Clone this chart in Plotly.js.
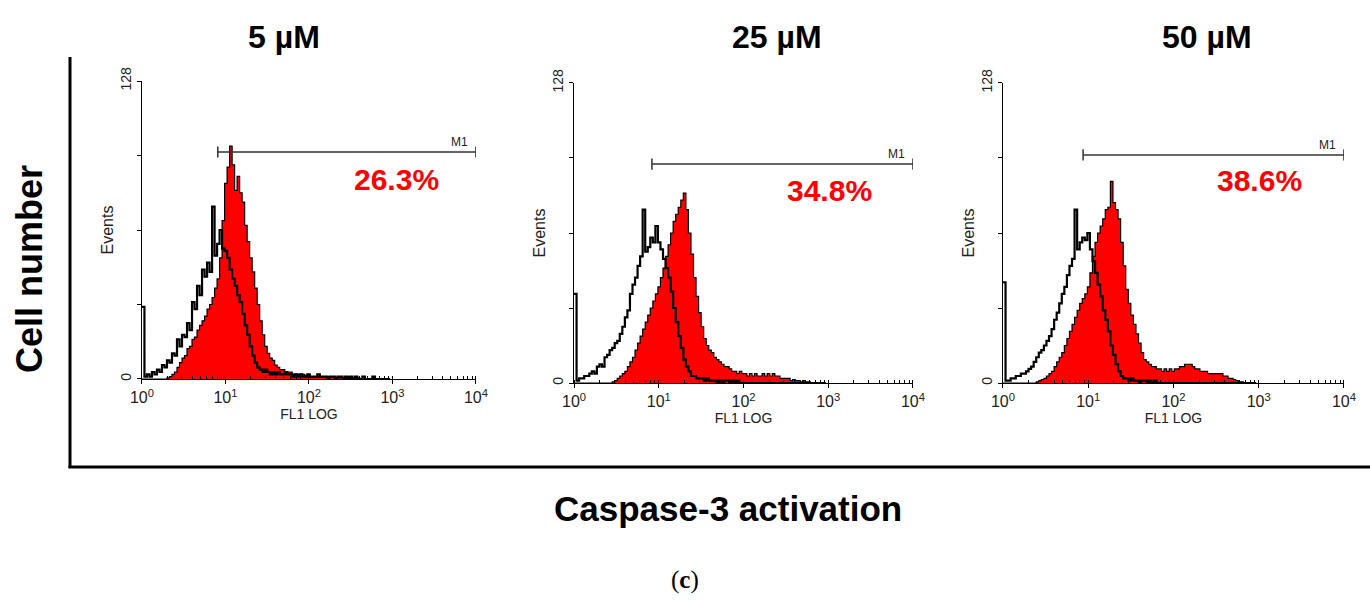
<!DOCTYPE html>
<html><head><meta charset="utf-8">
<script src="https://cdn.plot.ly/plotly-3.0.1.min.js"></script>
<style>html,body{margin:0;padding:0;background:#fff;} #chart{width:1370px;height:601px;}</style>
</head><body><div id="chart"></div>
<script>
// ---------- data ----------
const panelTitles = ['5 µM', '25 µM', '50 µM'];
const percentLabels = ['26.3%', '34.8%', '38.6%'];

// channel positions, in decades of FL1 (10^e)
const fl1Exp = [
  0.00,0.03,0.06,0.09,0.12,0.15,0.18,0.21,0.24,0.27,
  0.30,0.33,0.36,0.39,0.42,0.45,0.48,0.51,0.54,0.57,
  0.60,0.63,0.66,0.69,0.72,0.75,0.78,0.81,0.84,0.87,
  0.90,0.93,0.96,0.99,1.02,1.05,1.08,1.11,1.14,1.17,
  1.20,1.23,1.26,1.29,1.32,1.35,1.38,1.41,1.44,1.47,
  1.50,1.53,1.56,1.59,1.62,1.65,1.68,1.71,1.74,1.77,
  1.80,1.83,1.86,1.89,1.92,1.95,1.98,2.01,2.04,2.07,
  2.10,2.13,2.16,2.19,2.22,2.25,2.28,2.31,2.34,2.37,
  2.40,2.43,2.46,2.49,2.52,2.55,2.58,2.61,2.64,2.67,
  2.70,2.73,2.76,2.79,2.82,2.85,2.88,2.91,2.94,2.97
];

// 5 µM
const control5 = [
  31,1,2,1,3,2,4,3,6,5,
  8,7,11,10,17,14,19,18,24,21,
  33,30,40,36,47,44,50,46,74,53,
  58,64,56,55,52,47,43,40,36,33,
  28,23,19,14,10,7,5,4,3,4,
  3,2,3,2,3,2,2,3,2,2,
  1,2,1,2,1,1,2,1,1,1,
  2,1,1,1,0,1,1,0,1,1,
  0,1,0,1,0,1,0,0,1,0,
  0,0,1,0,0,0,0,0,0,0
];
const treated5 = [
  0,0,0,0,0,0,0,0,0,0,
  0.5,1,2,3,5,7,9,10,13,14,
  17,18,21,23,25,27,30,32,35,39,
  43,52,68,84,91,100,92,81,87,80,
  76,66,59,52,46,39,32,25,19,14,
  11,9,8,6,5,4,4,3,3,3,
  2,2,2,2,2,1.5,1.5,1,1,1,
  1,1,1,1,1,1,1,0.5,0.5,0.5,
  0.5,0.5,0.5,0.5,0.5,0.5,0.5,0,0,0,
  0,0,0,0,0,0,0,0,0,0
];
// 25 µM
const control25 = [
  38,1,2,2,3,3,4,5,4,7,
  8,7,11,12,14,15,17,18,21,24,
  28,31,38,42,45,50,54,74,56,58,
  62,60,67,60,57,53,49,45,39,32,
  26,20,15,10,7,5,3,3,2,2,
  2,1,2,1,1,1,0,1,0,1,
  1,0,1,0,1,0,0,0,0,0,
  0,0,0,0,0,0,0,0,0,0,
  0,0,0,0,0,0,0,0,0,0,
  0,0,0,0,0,0,0,0,0,0
];
const treated25 = [
  0,0,0,0,0,0,0,0,0,0,
  0,0,0,0,0,0.5,1,2,3,4,
  5,7,9,11,14,17,20,23,26,29,
  32,35,38,41,45,49,54,59,64,69,
  72,75,78,81,74,64,55,45,37,30,
  24,19,16,14,13,11,10,9,8,7,
  7,6,5,5,4,5,4,4,3,4,
  3,4,3,3,4,3,4,3,4,3,
  3,2,2,2,2,1,1.5,1,1,0.5,
  1,0.5,0.5,0,0,0,0,0,0,0
];
// 50 µM
const control50 = [
  43,1,1,2,2,3,3,4,4,5,
  6,7,9,11,13,14,16,18,20,23,
  27,30,34,38,41,46,50,53,74,57,
  60,62,61,64,57,52,47,42,37,31,
  27,22,16,12,8,5,3,2,2,1,
  2,1,1,0,1,1,0,1,0,1,
  0,0,0,0,0,0,0,0,0,0,
  0,0,0,0,0,0,0,0,0,0,
  0,0,0,0,0,0,0,0,0,0,
  0,0,0,0,0,0,0,0,0,0
];
const treated50 = [
  0,0,0,0,0,0,0,0,0,0,
  0,0,0,0.5,1,1.5,2,3,4,5,
  7,9,11,13,16,19,22,25,28,31,
  34,36,38,41,47,54,60,64,67,70,
  74,75,86,77,74,70,60,50,40,34,
  29,25,21,17,13,10,9,8,7,7,
  6,6,5,6,5,6,5,6,6,7,
  7,8,8,8,7,6,6,5,5,5,
  4,4,4,4,4,4,3,3,2,2,
  1.5,1,0.5,0.5,0,0,0,0,0,0
];

// M1 gate markers
const gateStart = [8.1, 8.3, 8.7];
const gateEnd = [10000, 10000, 10000];
const gateLevel = [97.5, 93.4, 97.3];

const xTickVals = [1, 10, 100, 1000, 10000];
const xTickText = ['10<sup>0</sup>','10<sup>1</sup>','10<sup>2</sup>','10<sup>3</sup>','10<sup>4</sup>'];
const yTickVals = [0, 32, 64, 96, 128];
const yTickText = ['0', '', '', '', '128'];

// ---------- build ----------
const fl1 = fl1Exp.map(e => Math.pow(10, e));
const controls = [control5, control25, control50];
const treateds = [treated5, treated25, treated50];

const FONT = '"Liberation Sans", Arial, sans-serif';
const xDomains = [[0.1036, 0.3474], [0.4190, 0.6664], [0.7321, 0.9810]];
const yDomains = [[0.3694, 0.8652], [0.3627, 0.8619], [0.3627, 0.8619]];
const pctPos = [[3.05, 85.5], [3.02, 82.3], [3.01, 86.6]];
const titleX = [284, 777, 1207];

const traces = [];
const layout = {
  width: 1370, height: 601,
  margin: {l: 0, r: 0, t: 0, b: 0},
  paper_bgcolor: '#fff', plot_bgcolor: '#fff',
  showlegend: false,
  font: {family: FONT, color: '#000'},
  annotations: [], shapes: []
};

for (let i = 0; i < 3; i++) {
  const s = i === 0 ? '' : String(i + 1);
  const xa = 'x' + s, ya = 'y' + s;
  traces.push({
    type: 'scatter', mode: 'lines', x: fl1, y: treateds[i], xaxis: xa, yaxis: ya,
    line: {shape: 'hv', color: '#000', width: 1.2}, fill: 'tozeroy', fillcolor: '#ff0000'
  });
  traces.push({
    type: 'scatter', mode: 'lines', x: fl1, y: controls[i], xaxis: xa, yaxis: ya,
    line: {shape: 'hv', color: '#000', width: 2.2}
  });
  traces.push({
    type: 'scatter', mode: 'lines+markers', x: [gateStart[i], gateEnd[i]], y: [gateLevel[i], gateLevel[i]],
    xaxis: xa, yaxis: ya,
    line: {color: '#333', width: 1.5},
    marker: {symbol: 'line-ns-open', size: 8, line: {color: '#333', width: 1.5}}
  });

  layout['xaxis' + s] = {
    type: 'log', range: [0, 4], domain: xDomains[i], anchor: ya,
    showgrid: false, zeroline: false, showline: true, linecolor: '#000', linewidth: 1.2,
    tickmode: 'array', tickvals: xTickVals, ticktext: xTickText,
    ticks: 'outside', ticklen: 4, tickcolor: '#000',
    tickfont: {size: 16, family: FONT, color: '#222'},
    minor: {ticks: 'inside', ticklen: 3, tickcolor: '#000', dtick: 'D1', showgrid: false},
    title: {text: 'FL1 LOG', font: {size: 14, family: FONT, color: '#222'}, standoff: 0}
  };
  layout['yaxis' + s] = {
    range: [0, 128], domain: yDomains[i], anchor: xa,
    showgrid: false, zeroline: false, showline: true, linecolor: '#000', linewidth: 1.2,
    tickmode: 'array', tickvals: yTickVals, ticktext: yTickText,
    ticks: 'outside', ticklen: 4, tickcolor: '#000', tickangle: -90,
    tickfont: {size: 14, family: FONT, color: '#222'},
    title: {text: 'Events', font: {size: 16, family: FONT, color: '#222'}, standoff: 0}
  };

  layout.annotations.push({
    xref: xa, yref: ya, x: Math.log10(gateEnd[i]), y: gateLevel[i],
    xanchor: 'right', yanchor: 'bottom', xshift: -6, yshift: 1, showarrow: false,
    text: 'M1', font: {size: 12, family: FONT, color: '#222'}
  });
  layout.annotations.push({
    xref: xa, yref: ya, x: pctPos[i][0], y: pctPos[i][1],
    xanchor: 'center', yanchor: 'middle', showarrow: false,
    text: '<b>' + percentLabels[i] + '</b>', font: {size: 30, family: FONT, color: '#ff0000'}
  });
  layout.annotations.push({
    xref: 'paper', yref: 'paper', x: titleX[i] / 1370, y: 1 - 37 / 601,
    xanchor: 'center', yanchor: 'middle', showarrow: false,
    text: '<b>' + panelTitles[i] + '</b>', font: {size: 32, family: FONT, color: '#000'}
  });
}

layout.annotations.push({
  xref: 'paper', yref: 'paper', x: 29 / 1370, y: 1 - 269 / 601, textangle: -90,
  xanchor: 'center', yanchor: 'middle', showarrow: false,
  text: '<b>Cell number</b>', font: {size: 36, family: FONT, color: '#000'}
});
layout.annotations.push({
  xref: 'paper', yref: 'paper', x: 728 / 1370, y: 1 - 508 / 601,
  xanchor: 'center', yanchor: 'middle', showarrow: false,
  text: '<b>Caspase-3 activation</b>', font: {size: 35, family: FONT, color: '#000'}
});
layout.annotations.push({
  xref: 'paper', yref: 'paper', x: 685 / 1370, y: 1 - 580 / 601,
  xanchor: 'center', yanchor: 'middle', showarrow: false,
  text: '(<b>c</b>)', font: {size: 25, family: '"Liberation Serif", "DejaVu Serif", serif', color: '#000'}
});

layout.shapes.push({
  type: 'line', xref: 'paper', yref: 'paper',
  x0: 70 / 1370, x1: 70 / 1370, y0: 1 - 57 / 601, y1: 1 - 468 / 601,
  line: {color: '#000', width: 3}
});
layout.shapes.push({
  type: 'line', xref: 'paper', yref: 'paper',
  x0: 68.5 / 1370, x1: 1, y0: 1 - 467 / 601, y1: 1 - 467 / 601,
  line: {color: '#000', width: 3}
});

Plotly.newPlot('chart', traces, layout, {displayModeBar: false, staticPlot: true});
</script>
</body></html>
